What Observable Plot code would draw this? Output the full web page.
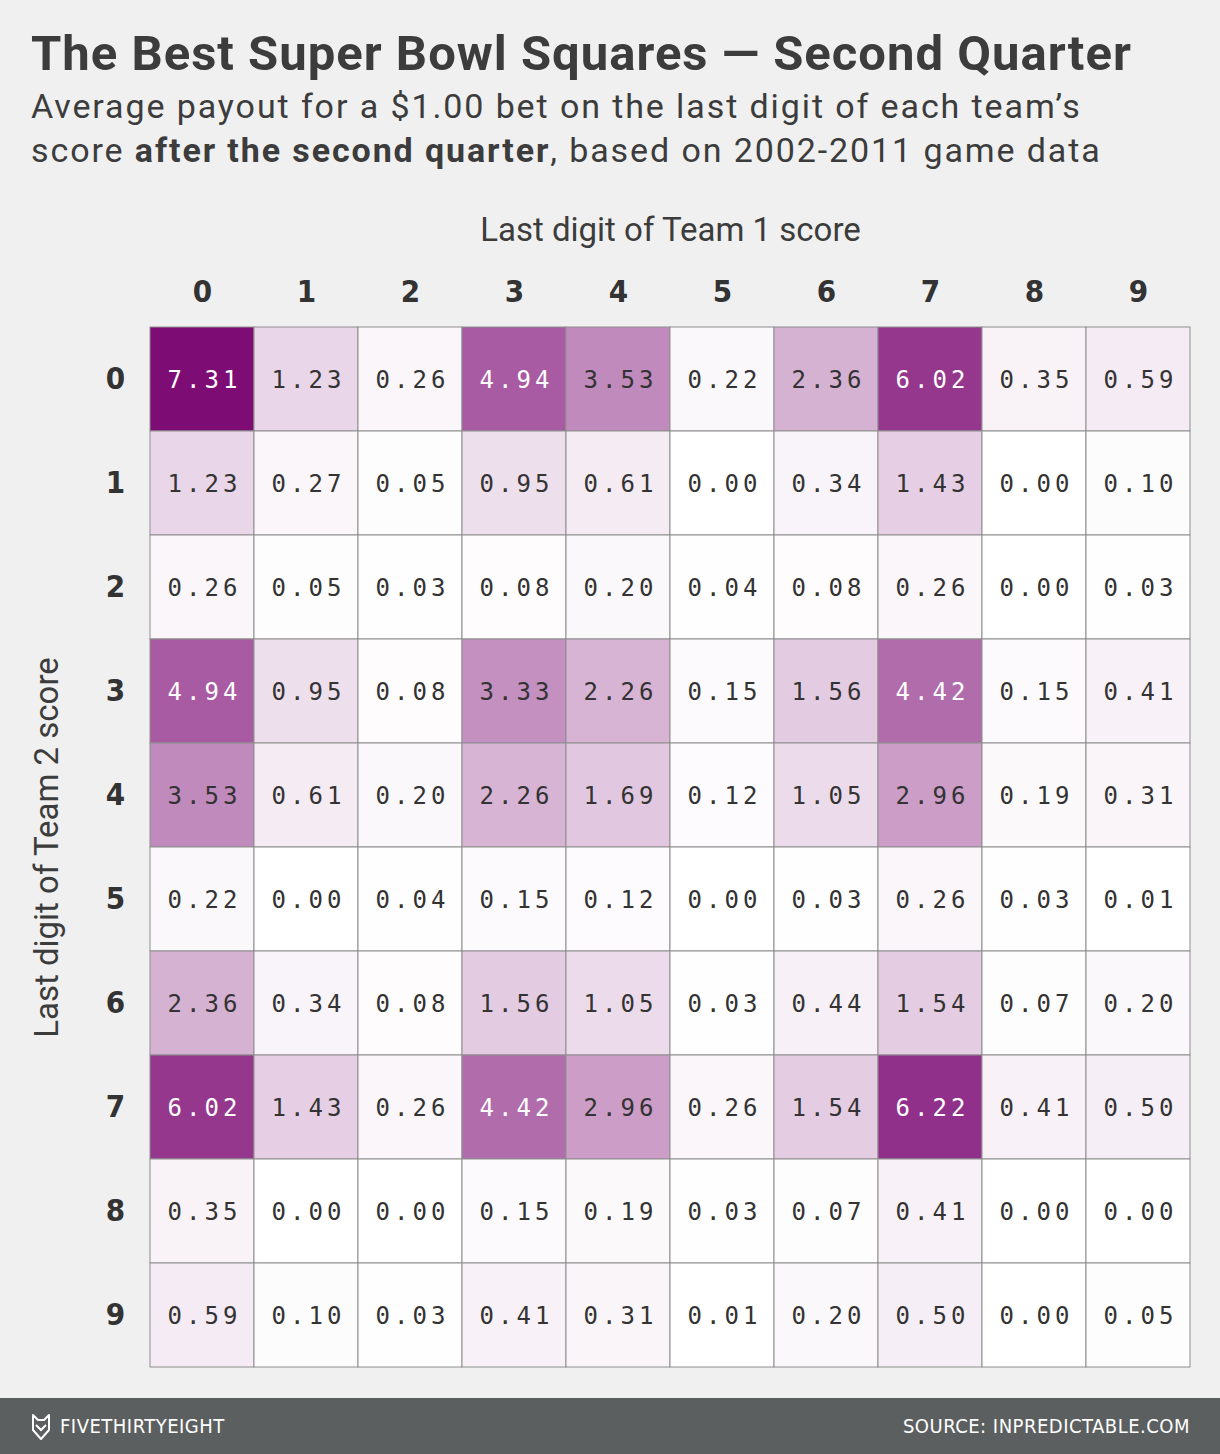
<!DOCTYPE html>
<html>
<head>
<meta charset="utf-8">
<script src="https://cdn.jsdelivr.net/npm/d3@7"></script>
<script src="https://cdn.jsdelivr.net/npm/@observablehq/plot@0.6"></script>
<style>
  html, body { margin: 0; padding: 0; background: #f0f0f0; }
  #page { position: relative; width: 1220px; height: 1454px; overflow: hidden; background: #f0f0f0; }
  #header { position: relative; height: 190px; }
  .title { position: absolute; left: 31px; top: 29px; margin: 0; font: bold 49px/49px Roboto, sans-serif; letter-spacing: 1px; color: #3c3c3c; white-space: nowrap; }
  .subtitle { position: absolute; left: 31px; top: 84px; margin: 0; font: 400 34px/44px Roboto, sans-serif; letter-spacing: 1.9px; color: #3c3c3c; white-space: nowrap; }
  .subtitle b { font-weight: bold; }
  #chart { position: absolute; left: 0; top: 190px; }
  #footer { position: absolute; left: 0; top: 1398px; width: 1220px; height: 56px; background: #5c5f60; color: #fff; }
  #footer .brand { position: absolute; left: 60px; top: 16px; font: 20px/24px "DejaVu Sans Condensed", sans-serif; letter-spacing: 0.5px; }
  #footer .source { position: absolute; right: 30px; top: 16px; font: 20px/24px "DejaVu Sans Condensed", sans-serif; letter-spacing: 0.5px; }
  #footer svg.logo { position: absolute; left: 31px; top: 15px; }
</style>
</head>
<body>
<div id="page">
  <div id="header">
    <div class="title">The Best Super Bowl Squares — Second Quarter</div>
    <div class="subtitle">Average payout for a $1.00 bet on the last digit of each team’s<br>score <b>after the second quarter</b>, based on 2002-2011 game data</div>
  </div>
  <div id="chart"></div>
  <div id="footer">
    <svg class="logo" width="20" height="28" viewBox="0 0 20 28">
      <path d="M2,2 L7,7 L13,7 L18,2 L18,17 L10,26 L2,17 Z" fill="none" stroke="#fff" stroke-width="2" stroke-linejoin="round"/>
      <path d="M5,12 L10,17 L15,12" fill="none" stroke="#fff" stroke-width="2"/>
    </svg>
    <div class="brand">FIVETHIRTYEIGHT</div>
    <div class="source">SOURCE: INPREDICTABLE.COM</div>
  </div>
</div>
<script>
// Last digit of Team 1 score (columns) and Team 2 score (rows)
const digits = [0, 1, 2, 3, 4, 5, 6, 7, 8, 9];

// Average payout per row (Team 2 last digit), columns ordered by Team 1 last digit
const row0 = [7.31, 1.23, 0.26, 4.94, 3.53, 0.22, 2.36, 6.02, 0.35, 0.59];
const row1 = [1.23, 0.27, 0.05, 0.95, 0.61, 0.00, 0.34, 1.43, 0.00, 0.10];
const row2 = [0.26, 0.05, 0.03, 0.08, 0.20, 0.04, 0.08, 0.26, 0.00, 0.03];
const row3 = [4.94, 0.95, 0.08, 3.33, 2.26, 0.15, 1.56, 4.42, 0.15, 0.41];
const row4 = [3.53, 0.61, 0.20, 2.26, 1.69, 0.12, 1.05, 2.96, 0.19, 0.31];
const row5 = [0.22, 0.00, 0.04, 0.15, 0.12, 0.00, 0.03, 0.26, 0.03, 0.01];
const row6 = [2.36, 0.34, 0.08, 1.56, 1.05, 0.03, 0.44, 1.54, 0.07, 0.20];
const row7 = [6.02, 1.43, 0.26, 4.42, 2.96, 0.26, 1.54, 6.22, 0.41, 0.50];
const row8 = [0.35, 0.00, 0.00, 0.15, 0.19, 0.03, 0.07, 0.41, 0.00, 0.00];
const row9 = [0.59, 0.10, 0.03, 0.41, 0.31, 0.01, 0.20, 0.50, 0.00, 0.05];
const rows = [row0, row1, row2, row3, row4, row5, row6, row7, row8, row9];

const xTitle = "Last digit of Team 1 score";
const yTitle = "Last digit of Team 2 score";

const table = [];
rows.forEach((r, i) => r.forEach((v, j) => table.push({team1: digits[j], team2: digits[i], value: v})));

const maxVal = d3.max(table, d => d.value);
const spacing = 4;

const plot = Plot.plot({
  width: 1220,
  height: 1208,
  marginTop: 137,
  marginBottom: 31,
  marginLeft: 150,
  marginRight: 30,
  style: {background: "transparent", fontFamily: "Roboto, sans-serif"},
  x: {type: "band", domain: digits, padding: 0, axis: null},
  y: {type: "band", domain: digits, padding: 0, axis: null},
  color: {type: "linear", domain: [0, maxVal], range: ["#ffffff", "#7e0c75"], interpolate: "rgb"},
  marks: [
    Plot.cell(table, {x: "team1", y: "team2", fill: "value", stroke: "#8e8e8e", strokeWidth: 1}),
    Plot.text(table, {
      x: "team1", y: "team2",
      text: d => d.value.toFixed(2),
      fill: d => d.value >= 4 ? "#ffffff" : "#333333",
      fontFamily: "DejaVu Sans Mono", fontSize: 24, dx: spacing / 2, dy: 1,
      ariaLabel: () => "cellval"
    }),
    Plot.axisX({anchor: "top", tickSize: 0, tickPadding: 26, label: null,
      fontFamily: "DejaVu Sans Condensed", fontWeight: "bold", fontSize: 31, fill: "#333"}),
    Plot.axisY({anchor: "left", tickSize: 0, tickPadding: 35, textAnchor: "middle", label: null,
      fontFamily: "DejaVu Sans Condensed", fontWeight: "bold", fontSize: 31, fill: "#333"}),
    Plot.text([xTitle], {frameAnchor: "top", dy: -110, text: d => d, fontSize: 33, fill: "#3c3c3c", fontFamily: "Roboto"}),
    Plot.text([yTitle], {frameAnchor: "left", dx: -103, rotate: -90, textAnchor: "middle", text: d => d, fontSize: 33, fill: "#3c3c3c", fontFamily: "Roboto"})
  ]
});

plot.querySelectorAll('text[aria-label="cellval"]').forEach(t => {
  t.style.letterSpacing = spacing + "px";
});
document.getElementById("chart").appendChild(plot);
</script>
</body>
</html>
